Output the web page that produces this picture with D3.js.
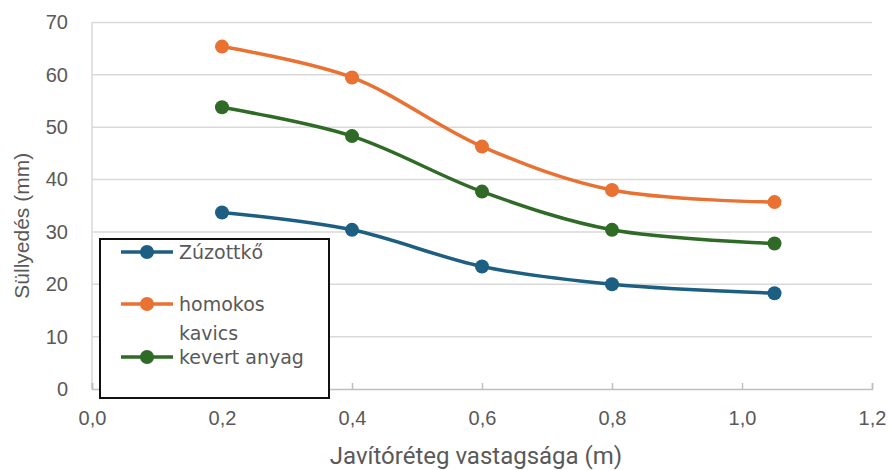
<!DOCTYPE html>
<html>
<head>
<meta charset="utf-8">
<script src="https://cdn.jsdelivr.net/npm/d3@7"></script>
<style>
  html, body { margin: 0; padding: 0; background: #fff; }
  svg { display: block; }
</style>
</head>
<body>
<svg id="chart" width="890" height="470"></svg>
<script>
// Layer thickness (m) and settlement (mm) for the three base materials
const thickness = [0.2, 0.4, 0.6, 0.8, 1.05];
const zuzottko = [33.7, 30.4, 23.4, 20.0, 18.3];
const homokosKavics = [65.4, 59.5, 46.3, 38.0, 35.7];
const kevertAnyag = [53.8, 48.3, 37.7, 30.4, 27.8];

const seriesNames = ["Zúzottkő", "homokos kavics", "kevert anyag"];
const seriesColors = ["#1d5f82", "#e97132", "#2f6a27"];
const seriesValues = [zuzottko, homokosKavics, kevertAnyag];

const xTicks = [0, 0.2, 0.4, 0.6, 0.8, 1.0, 1.2];
const yTicks = [0, 10, 20, 30, 40, 50, 60, 70];

const svg = d3.select("#chart");
const margin = { left: 92, right: 18, top: 22.5, bottom: 81 };
const W = 890, H = 470;
const x = d3.scaleLinear().domain([0, 1.2]).range([margin.left, W - margin.right]);
const y = d3.scaleLinear().domain([0, 70]).range([H - margin.bottom, margin.top]);

const textColor = "#595959";
const gridColor = "#d9d9d9";
const font = "'Liberation Sans', Arial, sans-serif";

// horizontal gridlines
svg.append("g")
  .selectAll("line")
  .data(yTicks.filter(d => d > 0))
  .join("line")
  .attr("x1", x(0)).attr("x2", x(1.2))
  .attr("y1", d => y(d)).attr("y2", d => y(d))
  .attr("stroke", gridColor).attr("stroke-width", 1.5);

// left axis line
svg.append("line")
  .attr("x1", x(0)).attr("x2", x(0))
  .attr("y1", y(70)).attr("y2", y(0))
  .attr("stroke", gridColor).attr("stroke-width", 1.5);

// bottom axis with inward ticks
const xAxis = d3.axisBottom(x)
  .tickValues(xTicks)
  .tickSize(-6)
  .tickPadding(22)
  .tickFormat(d => d3.format(".1f")(d).replace(".", ","));
const gx = svg.append("g")
  .attr("transform", `translate(0,${y(0)})`)
  .call(xAxis);
gx.select(".domain").attr("stroke", "#bfbfbf").attr("stroke-width", 1.5);
gx.selectAll(".tick line").attr("stroke", "#bfbfbf").attr("stroke-width", 1.5);
gx.selectAll("text")
  .attr("fill", textColor)
  .attr("font-family", font)
  .attr("font-size", 20);

// left axis labels
const yAxis = d3.axisLeft(y).tickValues(yTicks).tickSize(0).tickPadding(24);
const gy = svg.append("g")
  .attr("transform", `translate(${x(0)},0)`)
  .call(yAxis);
gy.select(".domain").remove();
gy.selectAll("text")
  .attr("fill", textColor)
  .attr("font-family", font)
  .attr("font-size", 20);

// axis titles
svg.append("text")
  .attr("transform", `translate(29,${(y(0) + y(70)) / 2 + 20}) rotate(-90)`)
  .attr("text-anchor", "middle")
  .attr("fill", textColor)
  .attr("font-family", font)
  .attr("font-size", 21)
  .text("Süllyedés (mm)");

svg.append("text")
  .attr("x", 476)
  .attr("y", 464)
  .attr("text-anchor", "middle")
  .attr("fill", textColor)
  .attr("font-family", "'Liberation Sans Narrow', 'Roboto', sans-serif")
  .attr("font-size", 24)
  .text("Javítóréteg vastagsága (m)");

// smoothed series lines with markers
const line = d3.line()
  .x((d, i) => x(thickness[i]))
  .y(d => y(d))
  .curve(d3.curveCatmullRom.alpha(0.5));

seriesValues.forEach((vals, s) => {
  const g = svg.append("g");
  g.append("path")
    .datum(vals)
    .attr("d", line)
    .attr("fill", "none")
    .attr("stroke", seriesColors[s])
    .attr("stroke-width", 3.5);
  g.selectAll("circle")
    .data(vals)
    .join("circle")
    .attr("cx", (d, i) => x(thickness[i]))
    .attr("cy", d => y(d))
    .attr("r", 7)
    .attr("fill", seriesColors[s]);
});

// legend box
const lg = svg.append("g");
lg.append("rect")
  .attr("x", 100).attr("y", 239)
  .attr("width", 229).attr("height", 159)
  .attr("fill", "#fff")
  .attr("stroke", "#111")
  .attr("stroke-width", 2);

const legendRows = [
  { yc: 252, lines: ["Zúzottkő"] },
  { yc: 304, lines: ["homokos", "kavics"] },
  { yc: 357, lines: ["kevert anyag"] }
];
legendRows.forEach((row, s) => {
  lg.append("line")
    .attr("x1", 121).attr("x2", 173)
    .attr("y1", row.yc).attr("y2", row.yc)
    .attr("stroke", seriesColors[s]).attr("stroke-width", 3.5);
  lg.append("circle")
    .attr("cx", 147).attr("cy", row.yc).attr("r", 7)
    .attr("fill", seriesColors[s]);
  row.lines.forEach((t, k) => {
    lg.append("text")
      .attr("x", 179)
      .attr("y", row.yc + 7 + k * 29)
      .attr("fill", textColor)
      .attr("font-family", "'DejaVu Sans', sans-serif")
      .attr("font-size", 19)
      .text(t);
  });
});
</script>
</body>
</html>
